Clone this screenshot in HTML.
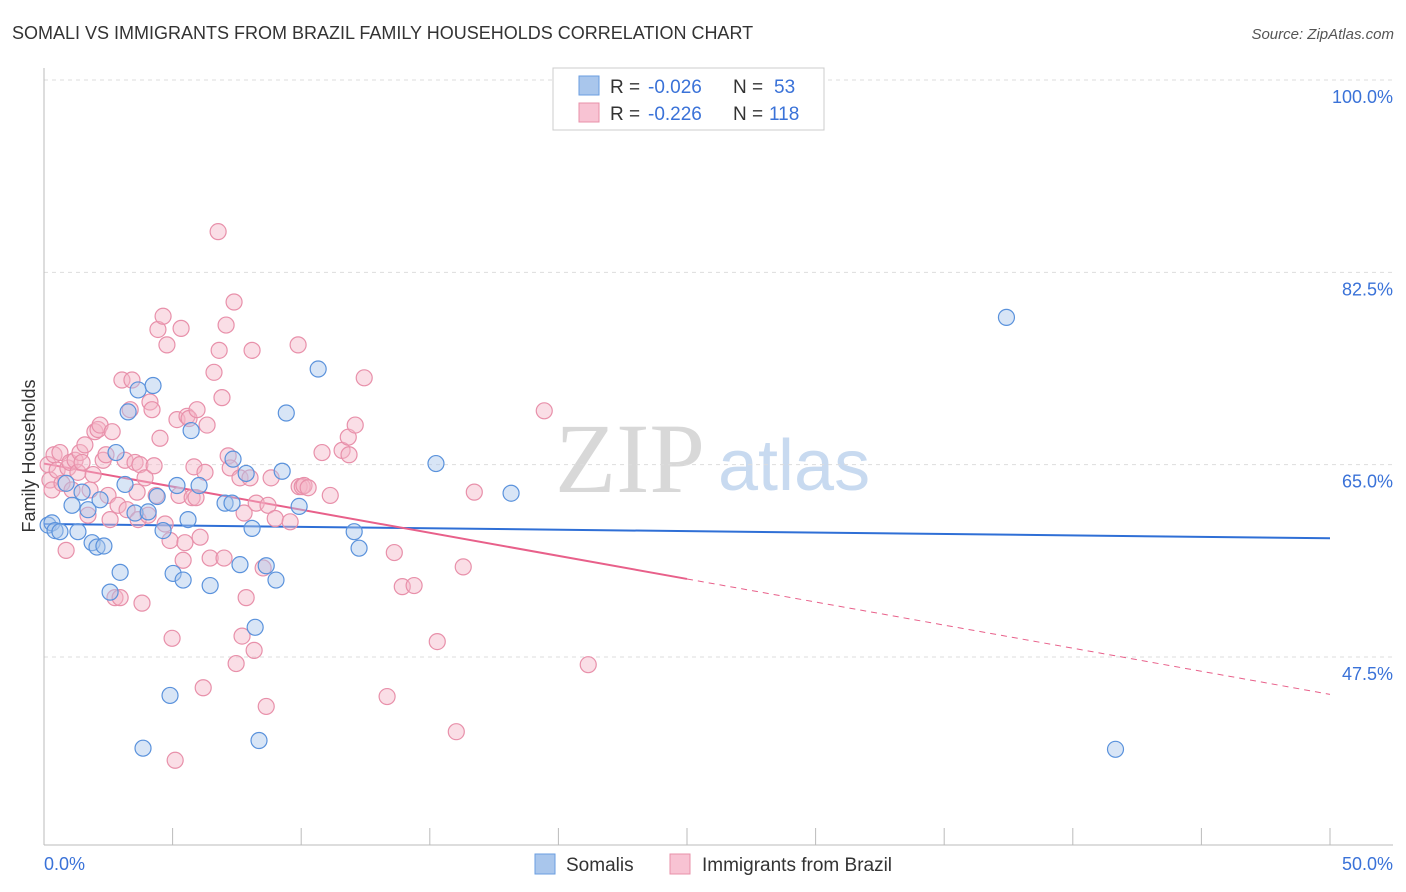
<!DOCTYPE html>
<html><head><meta charset="utf-8"><style>
body{margin:0;background:#fff;font-family:"Liberation Sans",sans-serif;}
svg{display:block}
</style></head><body>
<svg id="chart" width="1406" height="892">
<text x="12" y="39" font-size="18" fill="#333">SOMALI VS IMMIGRANTS FROM BRAZIL FAMILY HOUSEHOLDS CORRELATION CHART</text>
<text x="1394" y="39" font-size="15" fill="#555" font-style="italic" text-anchor="end">Source: ZipAtlas.com</text>
<g>
<text x="555" y="492" font-size="100" fill="#d8d8d8" font-family="Liberation Serif,serif">ZIP</text>
<text x="718" y="490" font-size="72" fill="#c8daf0">atlas</text>
</g>
<g id="grid"></g>
<g id="axes"></g>
<g id="trend"></g>
<g id="pts"></g>
<text x="35" y="456" font-size="18" fill="#333" text-anchor="middle" transform="rotate(-90 35 456)">Family Households</text>
<g>
<rect x="553" y="68" width="271" height="62" fill="#fff" stroke="#ccc"/>
<rect x="579" y="76" width="20" height="19" fill="#a9c6ec" stroke="#6a9ee0"/>
<rect x="579" y="103" width="20" height="19" fill="#f8c3d3" stroke="#e890aa"/>
<text y="93" font-size="19" fill="#333"><tspan x="610">R =</tspan><tspan x="648" fill="#3a72d8">-0.026</tspan><tspan x="733">N =</tspan><tspan x="774" fill="#3a72d8">53</tspan></text>
<text y="120" font-size="19" fill="#333"><tspan x="610">R =</tspan><tspan x="648" fill="#3a72d8">-0.226</tspan><tspan x="733">N =</tspan><tspan x="769" fill="#3a72d8">118</tspan></text>
</g>
<g>
<rect x="535" y="854" width="20" height="20" fill="#a9c6ec" stroke="#6a9ee0"/>
<text x="566" y="871" font-size="19" fill="#333">Somalis</text>
<rect x="670" y="854" width="20" height="20" fill="#f8c3d3" stroke="#e890aa"/>
<text x="702" y="871" font-size="19" fill="#333">Immigrants from Brazil</text>
</g>
</svg>
<script>
const yTicks=[100,82.5,65,47.5];
const yTickLabels=["100.0%","82.5%","65.0%","47.5%"];
const xTickLabels=["0.0%","50.0%"];
const somaliX=[0.16,0.31,0.43,0.62,0.86,1.09,1.32,1.48,1.71,1.87,2.06,2.33,2.18,2.57,2.80,2.96,3.15,3.27,3.66,4.24,3.85,3.54,4.05,4.40,4.63,4.90,5.02,5.17,5.41,5.60,5.72,6.03,6.46,7.04,7.31,7.35,7.62,7.86,8.09,8.21,8.36,8.64,9.02,9.26,9.42,9.92,10.66,12.06,12.25,15.24,18.16,37.42,41.66];
const somaliY=[59.5,59.7,59.0,58.9,63.3,61.3,58.9,62.5,60.9,57.9,57.5,57.6,61.8,53.4,66.1,55.2,63.2,69.8,71.8,72.2,39.2,60.6,60.7,62.1,59.0,44.0,55.1,63.1,54.5,60.0,68.1,63.1,54.0,61.5,61.5,65.5,55.9,64.2,59.2,50.2,39.9,55.8,54.5,64.4,69.7,61.2,73.7,58.9,57.4,65.1,62.4,78.4,39.1];
const brazilX=[0.16,0.23,0.31,0.39,0.51,0.62,0.70,0.86,0.93,1.01,1.09,1.21,1.32,1.40,1.48,1.59,1.71,1.79,1.91,1.98,2.10,2.18,2.30,2.41,2.49,2.57,2.65,2.76,2.88,2.96,3.03,3.15,3.23,3.35,3.42,3.54,3.62,3.66,3.73,3.81,3.93,4.05,4.12,4.20,4.28,4.36,4.43,4.51,4.63,4.71,4.78,4.90,4.98,5.10,5.17,5.25,5.33,5.41,5.48,5.56,5.64,5.76,5.83,5.91,5.95,6.07,6.19,6.26,6.34,6.46,6.61,6.77,6.81,6.92,7.00,7.08,7.16,7.24,7.39,7.47,7.62,7.70,7.78,7.86,8.01,8.09,8.17,8.25,8.52,8.64,8.71,8.83,8.99,9.57,9.88,9.92,10.04,10.11,10.27,10.81,11.13,11.59,11.83,11.86,12.10,12.45,13.34,13.62,13.93,14.39,15.29,16.03,16.30,16.73,19.45,21.16];
const brazilY=[65.0,63.6,62.7,65.9,64.5,66.1,63.3,57.2,64.7,65.2,62.7,65.4,64.3,66.1,65.2,66.8,60.4,62.7,64.1,68.0,68.2,68.6,65.4,65.9,62.2,60.0,68.0,52.9,61.3,52.9,72.7,65.4,60.9,70.0,72.7,65.2,62.5,60.0,65.0,52.4,63.8,60.4,70.7,70.0,64.9,62.2,77.3,67.4,78.5,59.6,75.9,58.1,49.2,38.1,69.1,62.2,77.4,56.3,57.9,69.4,69.2,62.0,64.8,62.0,70.0,58.4,44.7,64.3,68.6,56.5,73.4,86.2,75.4,71.1,56.5,77.7,65.8,64.7,79.8,46.9,63.8,49.4,60.6,52.9,63.8,75.4,48.1,61.5,55.6,43.0,61.3,63.8,60.1,59.8,75.9,63.0,63.0,63.1,62.9,66.1,62.2,66.3,67.5,65.9,68.6,72.9,43.9,57.0,53.9,54.0,48.9,40.7,55.7,62.5,69.9,46.8];
const somaliTrend=[59.6,58.3];
const brazilTrend=[65.1,54.6,44.1];
const NS="http://www.w3.org/2000/svg";
const X=v=>44+v/50*1286;
const Y=v=>80+(100-v)*10.99;
function mk(tag,attrs,parent){const e=document.createElementNS(NS,tag);for(const k in attrs)e.setAttribute(k,attrs[k]);parent.appendChild(e);return e;}
const grid=document.getElementById('grid'),axes=document.getElementById('axes'),trend=document.getElementById('trend'),pts=document.getElementById('pts');
yTicks.forEach((t,i)=>{
 const l=mk('line',{x1:44,x2:1393,y1:Y(t),y2:Y(t),stroke:'#ddd','stroke-dasharray':'4 4'},grid);
 
 
 const tx=mk('text',{x:1393,y:Y(t)+23,'font-size':18,fill:'#3a72d8','text-anchor':'end'},axes);
 tx.textContent=yTickLabels[i];
 
 
});
const ya=mk('line',{x1:44,x2:44,y1:68,y2:845,stroke:'#bbb'},axes);


const xa=mk('line',{x1:44,x2:1393,y1:845,y2:845,stroke:'#bbb'},axes);


for(let i=0;i<=10;i++){const tk=mk('line',{x1:X(i*5),x2:X(i*5),y1:828,y2:845,stroke:'#bbb'},axes);
 
 }
[[0,44,'start'],[50,1393,'end']].forEach((d,i)=>{const tx=mk('text',{x:d[1],y:870,'font-size':18,fill:'#3a72d8','text-anchor':d[2]},axes);tx.textContent=xTickLabels[i];
 
 });
function dots(xs,ys,fill,stroke,name){xs.forEach((x,i)=>{const c=mk('circle',{cx:X(x),cy:Y(ys[i]),r:8,fill:fill,'fill-opacity':0.45,stroke:stroke,'stroke-width':1.2},pts);
 
 });}
dots(brazilX,brazilY,'#f4b6c8','#e890aa','brazil-point');
dots(somaliX,somaliY,'#a9c6ec','#5a92dc','somali-point');
const bl=mk('line',{x1:X(0),y1:Y(somaliTrend[0]),x2:X(50),y2:Y(somaliTrend[1]),stroke:'#2f6fd6','stroke-width':2},trend);


const pl=mk('line',{x1:X(0),y1:Y(brazilTrend[0]),x2:X(25),y2:Y(brazilTrend[1]),stroke:'#e8608a','stroke-width':2},trend);


const pd=mk('line',{x1:X(25),y1:Y(brazilTrend[1]),x2:X(50),y2:Y(brazilTrend[2]),stroke:'#e8608a','stroke-width':1,'stroke-dasharray':'6 5'},trend);


</script>
</body></html>
